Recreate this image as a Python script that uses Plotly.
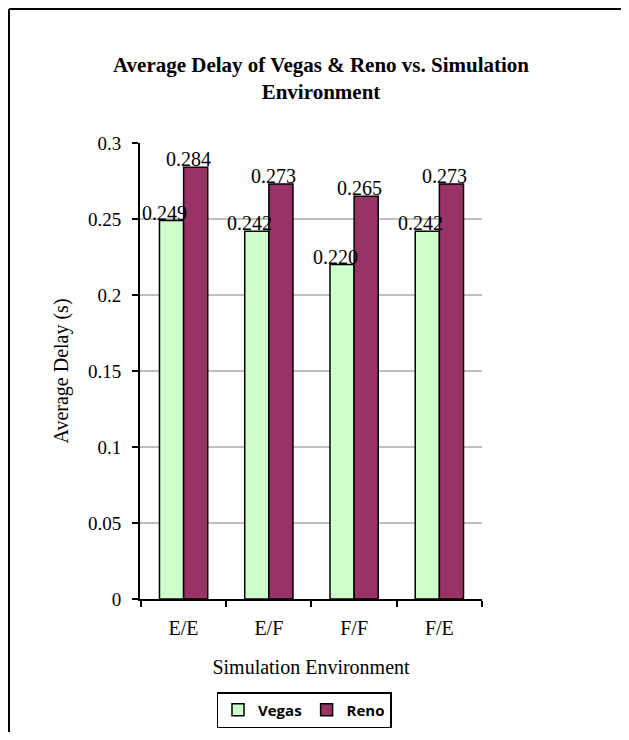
import plotly.graph_objects as go

categories = ["E/E", "E/F", "F/F", "F/E"]
vegas = [0.249, 0.242, 0.220, 0.242]
reno = [0.284, 0.273, 0.265, 0.273]
y_ticks = [0, 0.05, 0.1, 0.15, 0.2, 0.25, 0.3]
y_tick_labels = ["0", "0.05", "0.1", "0.15", "0.2", "0.25", "0.3"]

SERIF = "Liberation Serif, Times New Roman, serif"
SANS = "Open Sans, Liberation Sans, sans-serif"

OFF = 8  # page body margin
W, H = 629 - 2 * OFF, 740 - 2 * OFF
ML, MT = 140 - OFF, 143 - OFF
PW, PH = 342, 456
MR = W - ML - PW
MB = H - MT - PH
BARGAP = 0.434


def px_x(sx):  # screen x -> paper x
    return (sx - OFF - ML) / PW


def px_y(sy):  # screen y -> paper y
    return (MT + PH - (sy - OFF)) / PH


fig = go.Figure()
fig.add_trace(go.Bar(name="Vegas", x=categories, y=vegas,
                     marker=dict(color="#CCFFCC", line=dict(color="black", width=1.5))))
fig.add_trace(go.Bar(name="Reno", x=categories, y=reno,
                     marker=dict(color="#993366", line=dict(color="black", width=1.5))))

# data labels
cat_w = PW / len(categories)
bar_w = cat_w * (1 - BARGAP) / 2
for series, sign in ((vegas, -1), (reno, 1)):
    for c, v in zip(categories, series):
        fig.add_annotation(x=c, y=v, xref="x", yref="y", text=f"{v:.3f}",
                           showarrow=False, yanchor="bottom", yshift=-5,
                           xshift=sign * bar_w / 2 - 7,
                           font=dict(family=SERIF, size=20, color="black"))

# outer frame (only left and top edges are visible in the crop)
frame = dict(color="black", width=2)
fig.add_shape(type="line", xref="paper", yref="paper",
              x0=px_x(9), x1=px_x(9), y0=px_y(760), y1=px_y(9), line=frame, layer="below")
fig.add_shape(type="line", xref="paper", yref="paper",
              x0=px_x(9), x1=px_x(660), y0=px_y(9), y1=px_y(9), line=frame, layer="below")

fig.update_layout(
    width=W, height=H,
    margin=dict(l=ML, r=MR, t=MT, b=MB, autoexpand=False),
    paper_bgcolor="white", plot_bgcolor="white",
    barmode="group", bargap=BARGAP, bargroupgap=0,
    title=dict(text="<b>Average Delay of Vegas &amp; Reno vs. Simulation<br>Environment</b>",
               x=(321 - OFF) / W, xanchor="center", y=1 - 64 / H, yanchor="top",
               font=dict(family=SERIF, size=21, color="black")),
    showlegend=True,
    legend=dict(orientation="h", x=px_x(304), xanchor="center",
                y=px_y(692), yanchor="top",
                bordercolor="black", borderwidth=1.5, bgcolor="white",
                font=dict(family=SANS, size=15, color="black", weight="bold"),
                itemclick=False, itemdoubleclick=False, itemwidth=30),
    font=dict(family=SERIF, color="black"),
)

fig.update_xaxes(
    showline=True, linecolor="black", linewidth=2,
    ticks="outside", ticklen=6, tickwidth=1.5, tickcolor="black", tickson="boundaries",
    tickfont=dict(family=SERIF, size=20, color="black"), ticklabelstandoff=10,
    title=dict(text="Simulation Environment", font=dict(family=SERIF, size=20, color="black"),
               standoff=22),
    showgrid=False, automargin=False,
)
fig.update_yaxes(
    range=[0, 0.3], tickvals=y_ticks, ticktext=y_tick_labels,
    showline=True, linecolor="black", linewidth=2,
    ticks="outside", ticklen=6, tickwidth=1.5, tickcolor="black",
    tickfont=dict(family=SERIF, size=19, color="black"), ticklabelstandoff=7,
    showgrid=True, gridcolor="#c0c0c0", gridwidth=1.5, zeroline=False,
    title=dict(text="Average Delay (s)", font=dict(family=SERIF, size=20, color="black"),
               standoff=14),
    automargin=False,
)

fig.write_html("out.html")
